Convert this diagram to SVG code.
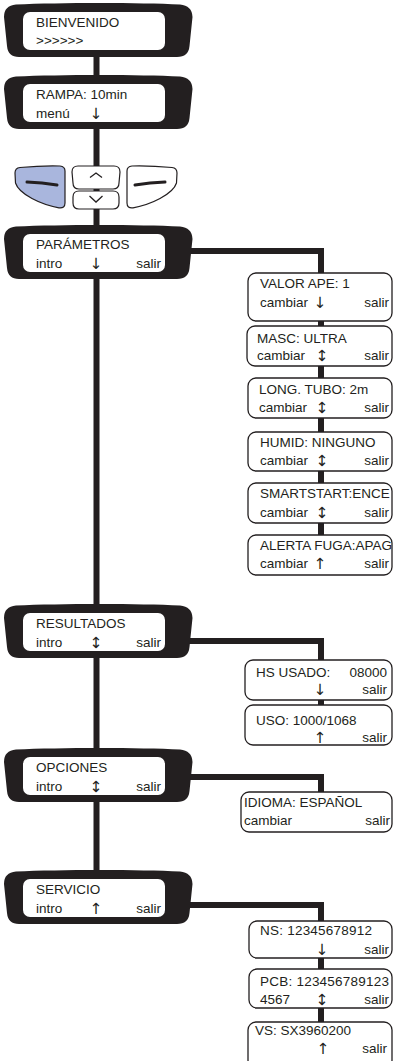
<svg xmlns="http://www.w3.org/2000/svg" xmlns:xlink="http://www.w3.org/1999/xlink" width="393" height="1061" viewBox="0 0 393 1061">
<style>
.t{font-family:"Liberation Sans",Arial,sans-serif;font-size:13.5px;fill:#231f20}
.a{font-family:"DejaVu Sans",sans-serif;font-size:15.5px;fill:#231f20;text-anchor:middle}
.e{text-anchor:end}
.bz{fill:#231f20}
.scr{fill:#ffffff}
.sb{fill:#ffffff;stroke:#231f20;stroke-width:1.3}
.ln{stroke:#231f20;stroke-width:6;fill:none;stroke-linejoin:miter}
.btn{stroke:#231f20;stroke-width:1.2}
.dash{stroke:#231f20;stroke-width:3;stroke-linecap:round;fill:none}
.chev{stroke:#231f20;stroke-width:1.3;fill:none}
</style>
<defs>
<g id="bezel">
<path class="bz" d="M16,1.5 C60,-0.5 140,-0.5 180,1.5 Q192,2.5 192.5,14 L189.5,43 Q188.5,54 177,54 L19,54 Q8,54 7,43 L4,14 Q4,2.5 16,1.5 Z"/>
<rect class="scr" x="23" y="9" width="142" height="38" rx="7"/>
</g>
</defs>
<rect width="393" height="1061" fill="#ffffff"/>
<g id="connectors">
<line class="ln" x1="96.5" y1="30" x2="96.5" y2="885"/>
<polyline class="ln" points="188,251 321,251 321,545"/>
<polyline class="ln" points="188,641 321,641 321,710"/>
<polyline class="ln" points="188,777 321,777 321,797"/>
<polyline class="ln" points="188,905 321,905 321,1030"/>
</g>
<g id="bienvenido">
<use xlink:href="#bezel" y="3"/>
<text class="t" x="36" y="27">BIENVENIDO</text>
<text class="t" x="36" y="45">&gt;&gt;&gt;&gt;&gt;&gt;</text>
</g>
<g id="rampa">
<use xlink:href="#bezel" y="75"/>
<text class="t" x="36" y="99">RAMPA: 10min</text>
<text class="t" x="36" y="118">menú</text>
<text class="a" x="96" y="119">↓</text>
</g>
<g id="buttons">
<path class="btn" fill="#a9b6dd" d="M20,167.5 Q42,165.5 60,166 Q65,166.5 65,171 L65,203 Q65,208.5 59,207.8 Q44,205 32,198.5 Q18,191 15.5,183 L15,173 Q15,168 20,167.5 Z"/>
<path class="dash" d="M27,182 Q42,182.5 57,185"/>
<path class="btn" fill="#ffffff" d="M172,167.5 Q150,165.5 132,166 Q127,166.5 127,171 L127,203 Q127,208.5 133,207.8 Q148,205 160,198.5 Q174,191 176.5,183 L177,173 Q177,168 172,167.5 Z"/>
<path class="dash" d="M165,182 Q150,182.5 135,185"/>
<path class="btn" fill="#ffffff" d="M78,166 L114,166 Q120,166 120,172 L119,183 Q119,189 113,189 L79,189 Q73,189 73,183 L72,172 Q72,166 78,166 Z"/>
<path class="chev" d="M90,177.5 L96,173 L102,177.5"/>
<path class="btn" fill="#ffffff" d="M79,191 L113,191 Q119,191 119,197 L119,203 Q119,209 113,209 L79,209 Q73,209 73,203 L73,197 Q73,191 79,191 Z"/>
<path class="chev" d="M89.5,196 L96,202 L102.5,196"/>
</g>
<g id="parametros">
<use xlink:href="#bezel" y="225"/>
<text class="t" x="36" y="249">PARÁMETROS</text>
<text class="t" x="36" y="268">intro</text>
<text class="a" x="96" y="269">↓</text>
<text class="t e" x="161" y="268">salir</text>
</g>
<g id="valor-ape">
<rect class="sb" x="248" y="273" width="144" height="48" rx="8"/>
<text class="t" x="260" y="288">VALOR APE: 1</text>
<text class="t" x="260" y="307">cambiar</text>
<text class="a" x="320" y="308">↓</text>
<text class="t e" x="389" y="307">salir</text>
</g>
<g id="masc">
<rect class="sb" x="247" y="326" width="145" height="40" rx="8"/>
<text class="t" x="257" y="343">MASC:  ULTRA</text>
<text class="t" x="257" y="360">cambiar</text>
<text class="a" x="322" y="361">↕</text>
<text class="t e" x="389" y="360">salir</text>
</g>
<g id="long-tubo">
<rect class="sb" x="248" y="378" width="144" height="40" rx="8"/>
<text class="t" x="259" y="394">LONG. TUBO: 2m</text>
<text class="t" x="259" y="412">cambiar</text>
<text class="a" x="322" y="413">↕</text>
<text class="t e" x="389" y="412">salir</text>
</g>
<g id="humid">
<rect class="sb" x="248" y="432" width="144" height="39" rx="8"/>
<text class="t" x="260" y="447">HUMID: NINGUNO</text>
<text class="t" x="260" y="465">cambiar</text>
<text class="a" x="322" y="466">↕</text>
<text class="t e" x="389" y="465">salir</text>
</g>
<g id="smartstart">
<rect class="sb" x="248" y="483" width="144" height="40" rx="8"/>
<text class="t" x="260" y="498">SMARTSTART:ENCE</text>
<text class="t" x="260" y="517">cambiar</text>
<text class="a" x="322" y="518">↕</text>
<text class="t e" x="389" y="517">salir</text>
</g>
<g id="alerta-fuga">
<rect class="sb" x="248" y="535" width="144" height="40" rx="8"/>
<text class="t" x="260" y="550">ALERTA FUGA:APAG</text>
<text class="t" x="260" y="568">cambiar</text>
<text class="a" x="320" y="569">↑</text>
<text class="t e" x="389" y="568">salir</text>
</g>
<g id="resultados">
<use xlink:href="#bezel" y="604"/>
<text class="t" x="36" y="628">RESULTADOS</text>
<text class="t" x="36" y="647">intro</text>
<text class="a" x="96" y="648">↕</text>
<text class="t e" x="161" y="647">salir</text>
</g>
<g id="hs-usado">
<rect class="sb" x="245" y="660" width="147" height="40" rx="8"/>
<text class="t" x="256" y="677">HS USADO:</text>
<text class="t e" x="387" y="677">08000</text>
<text class="a" x="320" y="695">↓</text>
<text class="t e" x="387" y="694">salir</text>
</g>
<g id="uso">
<rect class="sb" x="245" y="705" width="147" height="40" rx="8"/>
<text class="t" x="256" y="725">USO:  1000/1068</text>
<text class="a" x="320" y="743">↑</text>
<text class="t e" x="387" y="742">salir</text>
</g>
<g id="opciones">
<use xlink:href="#bezel" y="748"/>
<text class="t" x="36" y="772">OPCIONES</text>
<text class="t" x="36" y="791">intro</text>
<text class="a" x="96" y="792">↕</text>
<text class="t e" x="161" y="791">salir</text>
</g>
<g id="idioma">
<rect class="sb" x="241" y="792" width="151" height="40" rx="8"/>
<text class="t" x="244" y="807">IDIOMA: ESPAÑOL</text>
<text class="t" x="244" y="825">cambiar</text>
<text class="t e" x="390" y="825">salir</text>
</g>
<g id="servicio">
<use xlink:href="#bezel" y="870"/>
<text class="t" x="36" y="894">SERVICIO</text>
<text class="t" x="36" y="913">intro</text>
<text class="a" x="96" y="914">↑</text>
<text class="t e" x="161" y="913">salir</text>
</g>
<g id="ns">
<rect class="sb" x="249" y="921" width="143" height="37" rx="8"/>
<text class="t" x="260" y="935" textLength="112">NS: 12345678912</text>
<text class="a" x="322" y="955">↓</text>
<text class="t e" x="389" y="954">salir</text>
</g>
<g id="pcb">
<rect class="sb" x="249" y="969" width="143" height="39" rx="8"/>
<text class="t" x="260" y="986" textLength="129">PCB: 123456789123</text>
<text class="t" x="260" y="1004">4567</text>
<text class="a" x="322" y="1005">↕</text>
<text class="t e" x="389" y="1004">salir</text>
</g>
<g id="vs">
<rect class="sb" x="248" y="1022" width="144" height="46" rx="8"/>
<text class="t" x="255" y="1035">VS: SX3960200</text>
<text class="a" x="323" y="1054">↑</text>
<text class="t e" x="387" y="1053">salir</text>
</g>
</svg>
